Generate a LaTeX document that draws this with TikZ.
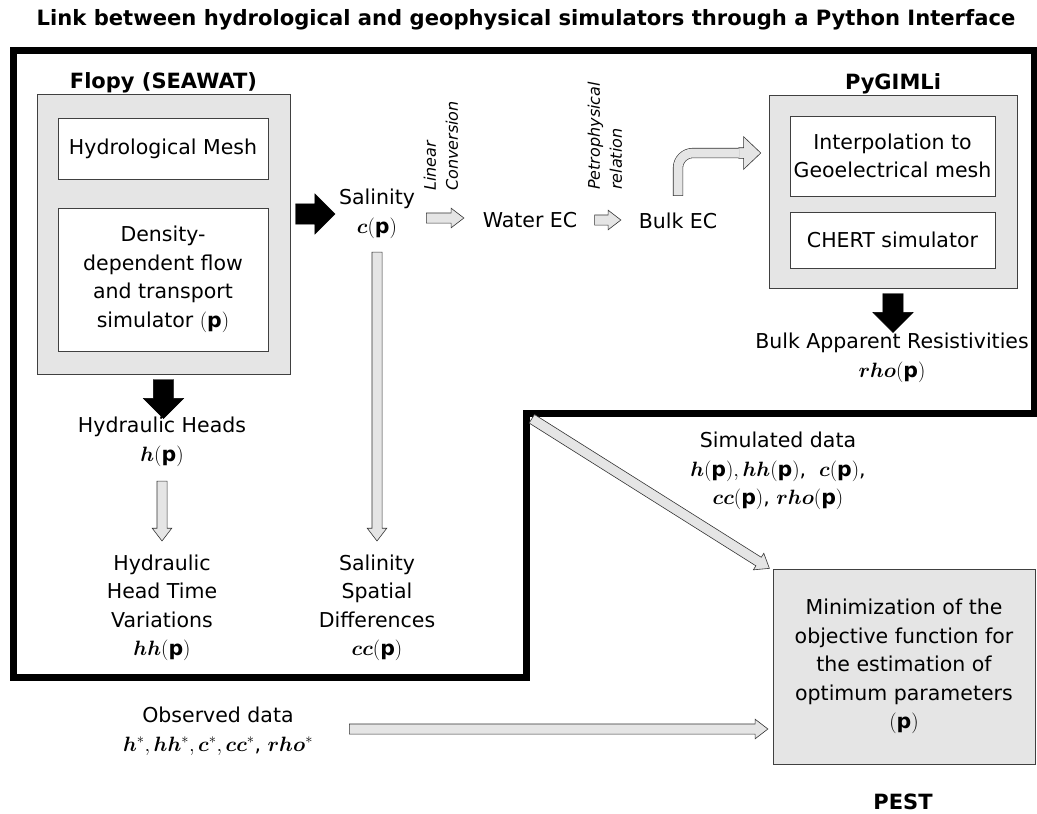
\documentclass[tikz,border=0pt]{standalone}
\usepackage{amsmath}
\usepackage{bm}
\usepackage{fontspec}
\setmainfont{DejaVu Sans}
\usepackage{tikz}
\usetikzlibrary{arrows.meta, positioning, calc, shapes.arrows}
\newcommand{\Par}{\mathbf{p}}
\newcommand{\Var}[1]{\bm{#1}(\Par)}
\newcommand{\BodyFont}{\fontsize{20.5}{28.5}\selectfont}
\newcommand{\NoteFont}{\fontsize{16}{22}\selectfont\itshape}
\newcommand{\HeadFont}{\fontsize{21}{25}\selectfont\bfseries}
\newcommand{\ArrowBetween}[3]{%
  \path let \p1=#2, \p2=#3,
    \n1={atan2(\y2-\y1,\x2-\x1)}, \n2={veclen(\x2-\x1,\y2-\y1)}
    in node[#1, minimum height=\n2, rotate=\n1] at ($(\p1)!0.5!(\p2)$) {};}
\tikzset{
    tool/.style={draw=black!75, fill=gray!20, line width=0.8pt},
    part/.style={draw=black!75, fill=white, line width=0.8pt, align=center, font=\BodyFont},
    txt/.style={align=center, font=\BodyFont, inner sep=3pt},
    note/.style={rotate=90, anchor=west, align=left, font=\NoteFont, inner sep=1pt},
    blockarrow/.style={single arrow, fill=black, draw=black, inner xsep=0pt, inner ysep=10pt,
      single arrow head extend=10pt, single arrow tip angle=90},
    hollowarrow/.style={single arrow, fill=gray!20, draw=black!80, line width=0.6pt, inner xsep=0pt,
      inner ysep=4.75pt, single arrow head extend=4.75pt, single arrow tip angle=75},
}

\begin{document}
\begin{tikzpicture}[x=1pt, y=-1pt]
    \useasboundingbox (0,0) rectangle (1037,814);

    \node[font=\fontsize{21.1}{25}\selectfont\bfseries] (title) at (526,20)
      {Link between hydrological and geophysical simulators through a Python Interface};

    % Python interface
    \draw[line width=7pt] (13,50) -- (1034,50) -- (1034,413) -- (526,413) -- (526,677) -- (13,677) -- cycle;

    \node[tool, minimum width=253pt, minimum height=280pt,
      label={[font=\HeadFont, label distance=-3pt]above:Flopy (SEAWAT)}] (flopy) at (163.5,234) {};
    \node[part, minimum width=210pt, minimum height=61pt] (mesh) at (163,148.5) {Hydrological Mesh};
    \node[part, minimum width=210pt, minimum height=143pt] (flow) at (163,279.5)
      {Density-\\dependent flow\\and transport\\simulator $(\Par)$};

    \node[tool, minimum width=248pt, minimum height=193pt,
      label={[font=\HeadFont, label distance=-3pt]above:PyGIMLi}] (pygimli) at (893,191.5) {};
    \node[part, minimum width=205pt, minimum height=80pt] (interp) at (892.5,156)
      {Interpolation to\\Geoelectrical mesh};
    \node[part, minimum width=205pt, minimum height=56pt] (chert) at (892.5,240) {CHERT simulator};

    \node[txt] (sal) at (377,214) {Salinity\\$\Var{c}$};
    \node[txt] (water) at (530,220) {Water EC};
    \node[txt] (bulk) at (678,221) {Bulk EC};
    \node[note] (lin) at (441,192) {Linear\\Conversion};
    \node[note] (petro) at (605,191) {Petrophysical\\relation};

    \node[txt] (res) at (892,358) {Bulk Apparent Resistivities\\$\Var{rho}$};
    \node[txt] (heads) at (162,442) {Hydraulic Heads\\$\Var{h}$};
    \node[txt] (hhvar) at (162,608) {Hydraulic\\Head Time\\Variations\\$\Var{hh}$};
    \node[txt] (ccvar) at (377,608) {Salinity\\Spatial\\Differences\\$\Var{cc}$};

    % PEST
    \node[txt] (sim) at (778,471) {Simulated data\\$\Var{h},\Var{hh}$, \ $\Var{c}$,\\$\Var{cc}$, $\Var{rho}$};
    \node[tool, txt, minimum width=262pt, minimum height=195pt] (pest) at (904,666.5)
      {Minimization of the\\objective function for\\the estimation of\\optimum parameters\\$(\Par)$};
    \node[font=\HeadFont] (pestname) at (903,802) {PEST};
    \node[txt] (obs) at (218,731) {Observed data\\$\bm{h}^*,\bm{hh}^*,\bm{c}^*,\bm{cc}^*$, $\bm{rho}^*$};
    \coordinate (corner) at (529,417);

    \ArrowBetween{blockarrow}{(flopy.east |- sal)}{($(sal.west)+(-6,0)$)}
    \ArrowBetween{blockarrow}{(flopy.south)}{($(flopy.south)+(0,39)$)}
    \ArrowBetween{blockarrow}{(pygimli.south)}{($(pygimli.south)+(0,39)$)}

    \ArrowBetween{hollowarrow}{($(sal.east)+(5,4)$)}{($(water.west)+(-19,-2)$)}
    \ArrowBetween{hollowarrow}{($(water.east)+(11,0)$)}{($(bulk.west)+(-18,-1)$)}
    \ArrowBetween{hollowarrow}{($(sal.south)+(0,7)$)}{($(ccvar.north)+(0,-14)$)}
    \ArrowBetween{hollowarrow}{($(heads.south)+(0,8)$)}{($(hhvar.north)+(0,-14)$)}
    \ArrowBetween{hollowarrow}{(corner)}{($(pest.north west)+(-6,-2)$)}
    \ArrowBetween{hollowarrow}{($(obs.east)+(30,-2)$)}{($(pest.west)+(-8,62.5)$)}

    \node[hollowarrow, minimum height=22pt, inner ysep=5pt, single arrow head extend=11pt,
      single arrow tip angle=87] (turn) at (747,153) {};
    \draw[gray!20, line width=9pt, rounded corners=15pt, shorten <=14.6pt, shorten >=-1pt,
      preaction={draw=black!80, line width=10.2pt, shorten <=14pt, shorten >=0pt}]
      (bulk.north) |- (turn.west);
\end{tikzpicture}
\end{document}
